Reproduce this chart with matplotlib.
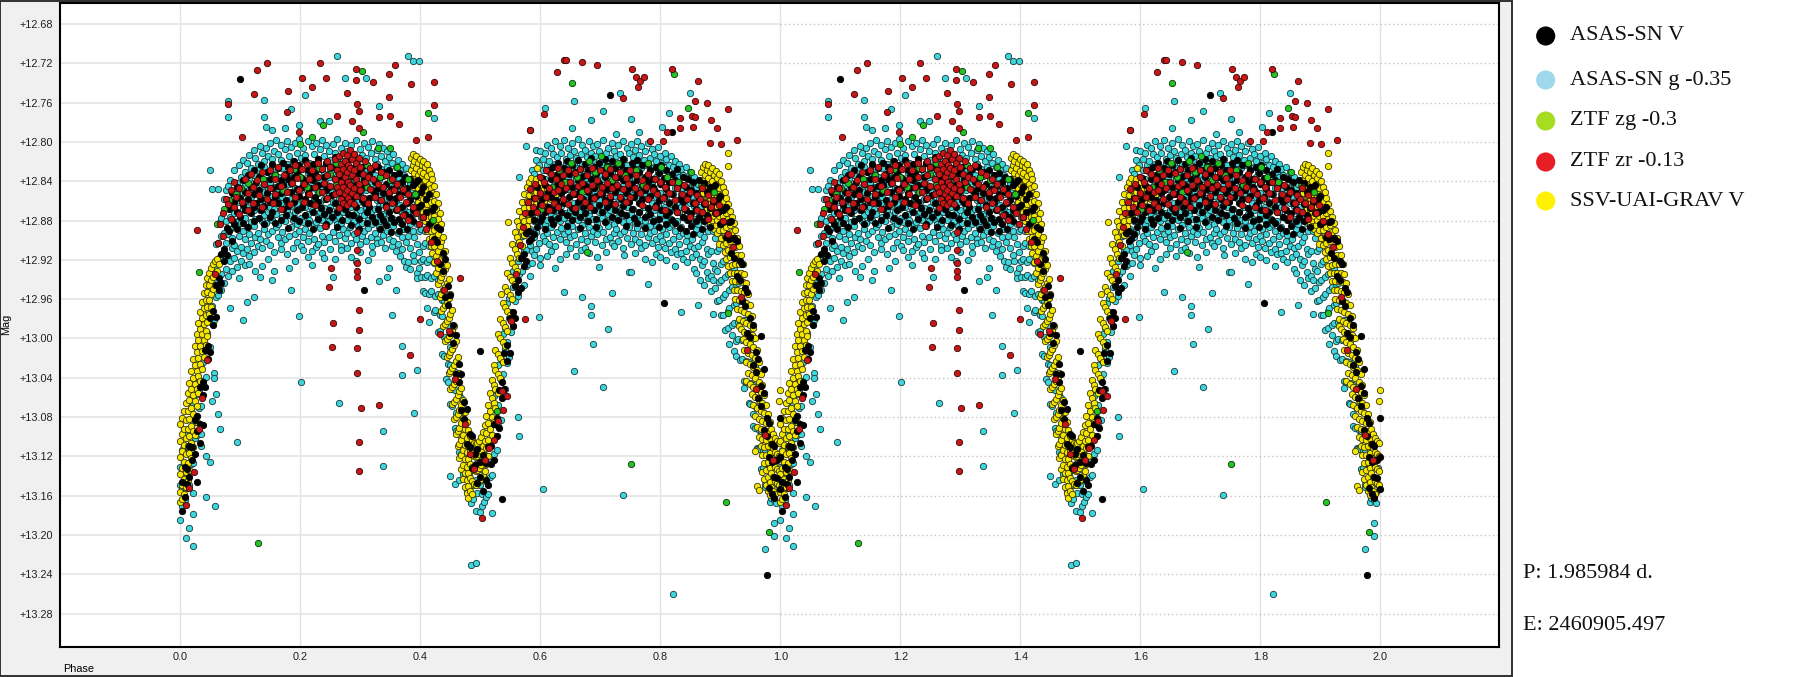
import matplotlib.pyplot as plt
from matplotlib.patches import Rectangle

# each row: (phase, mag, mag, ...) for one cycle (phase 0..1);
# the chart shows the same cycle twice, so it is drawn again at phase + 1
asassn_v = [
    (0.002, 13.146, 13.176), (0.007, 13.131, 13.161), (0.011, 13.133, 13.148), (0.015, 13.109, 13.141),
    (0.019, 13.111, 13.124), (0.024, 13.083, 13.118), (0.028, 13.079, 13.094, 13.146),
    (0.032, 13.049, 13.087, 13.106), (0.037, 13.044, 13.058, 13.088), (0.041, 13.012, 13.049),
    (0.046, 13.008, 13.021), (0.050, 12.979, 13.014), (0.055, 12.972, 12.986), (0.059, 12.946, 12.978),
    (0.064, 12.939, 12.951), (0.068, 12.914, 12.944), (0.073, 12.909, 12.921), (0.077, 12.888, 12.915),
    (0.081, 12.868, 12.891), (0.086, 12.852, 12.879, 12.901), (0.090, 12.861, 12.884), (0.095, 12.846, 12.871, 12.889),
    (0.099, 12.857, 12.876, 12.736), (0.104, 12.839, 12.864, 12.883), (0.108, 12.851, 12.869),
    (0.113, 12.834, 12.858, 12.887), (0.117, 12.846, 12.872), (0.122, 12.829, 12.853, 12.866, 12.881),
    (0.126, 12.841, 12.862), (0.131, 12.836, 12.849, 12.877), (0.135, 12.824, 12.858, 12.869),
    (0.140, 12.843, 12.865, 12.884), (0.144, 12.831, 12.852), (0.149, 12.838, 12.861, 12.876),
    (0.153, 12.822, 12.847, 12.871), (0.158, 12.834, 12.856, 12.883), (0.162, 12.827, 12.845, 12.862),
    (0.167, 12.839, 12.852, 12.879), (0.171, 12.821, 12.844, 12.868), (0.176, 12.833, 12.859, 12.874),
    (0.180, 12.826, 12.838, 12.865, 12.888), (0.185, 12.842, 12.851), (0.189, 12.819, 12.836, 12.861, 12.877),
    (0.194, 12.831, 12.848, 12.869), (0.198, 12.824, 12.855, 12.881), (0.203, 12.837, 12.846, 12.866),
    (0.207, 12.818, 12.841, 12.858, 12.874), (0.212, 12.829, 12.852, 12.883), (0.216, 12.835, 12.847, 12.862),
    (0.221, 12.822, 12.839, 12.871, 12.889), (0.225, 12.832, 12.856), (0.230, 12.817, 12.844, 12.861, 12.878),
    (0.234, 12.828, 12.851, 12.867), (0.239, 12.836, 12.843, 12.873), (0.243, 12.821, 12.849, 12.858, 12.884),
    (0.248, 12.833, 12.846, 12.869), (0.252, 12.826, 12.854, 12.876), (0.257, 12.815, 12.838, 12.862),
    (0.261, 12.829, 12.847, 12.871, 12.887), (0.266, 12.836, 12.852), (0.270, 12.823, 12.841, 12.864, 12.879),
    (0.275, 12.831, 12.857, 12.868), (0.279, 12.818, 12.844, 12.873), (0.284, 12.827, 12.849, 12.862, 12.885),
    (0.288, 12.835, 12.856, 12.874), (0.293, 12.821, 12.843, 12.866), (0.297, 12.832, 12.851, 12.878, 12.889),
    (0.302, 12.826, 12.847, 12.859), (0.306, 12.838, 12.862, 12.951), (0.311, 12.823, 12.845, 12.871, 12.883),
    (0.315, 12.834, 12.857, 12.866), (0.320, 12.828, 12.849, 12.876), (0.324, 12.841, 12.853, 12.882),
    (0.329, 12.826, 12.847, 12.868), (0.333, 12.836, 12.859, 12.874, 12.889), (0.338, 12.831, 12.852, 12.879),
    (0.342, 12.843, 12.864, 12.885), (0.347, 12.829, 12.856, 12.871), (0.351, 12.839, 12.848, 12.877, 12.892),
    (0.356, 12.834, 12.861, 12.882), (0.360, 12.845, 12.857, 12.869), (0.365, 12.832, 12.853, 12.878, 12.891),
    (0.369, 12.841, 12.866, 12.884), (0.374, 12.836, 12.851, 12.873), (0.378, 12.847, 12.862, 12.889),
    (0.383, 12.838, 12.859, 12.876), (0.387, 12.844, 12.869, 12.881),
    (0.392, 12.841, 12.855), (0.396, 12.839, 12.866), (0.401, 12.851, 12.864), (0.405, 12.846, 12.876),
    (0.410, 12.858, 12.871), (0.414, 12.853, 12.884), (0.419, 12.869, 12.881), (0.423, 12.866, 12.899),
    (0.428, 12.887, 12.902), (0.432, 12.889, 12.924), (0.437, 12.913, 12.931), (0.441, 12.919, 12.958),
    (0.446, 12.947, 12.966), (0.450, 12.956, 12.995), (0.455, 12.986, 13.005), (0.459, 12.997, 13.036),
    (0.464, 13.026, 13.044), (0.468, 13.036, 13.073), (0.473, 13.065, 13.082), (0.477, 13.072, 13.107),
    (0.482, 13.097, 13.111), (0.486, 13.099, 13.132), (0.491, 13.118, 13.129), (0.495, 13.113, 13.147),
    (0.500, 13.126, 13.141, 13.013), (0.504, 13.119, 13.155), (0.509, 13.127, 13.144), (0.513, 13.111, 13.149),
    (0.518, 13.109, 13.128), (0.522, 13.087, 13.124), (0.527, 13.081, 13.099), (0.531, 13.053, 13.091),
    (0.536, 13.044, 13.061, 13.163), (0.540, 13.015, 13.051), (0.545, 13.007, 13.023), (0.549, 12.979, 13.015),
    (0.554, 12.973, 12.987), (0.558, 12.947, 12.979), (0.563, 12.941, 12.953), (0.567, 12.918, 12.949),
    (0.572, 12.914, 12.926), (0.576, 12.893, 12.921), (0.581, 12.891, 12.901), (0.585, 12.872, 12.899),
    (0.590, 12.857, 12.879, 12.894), (0.594, 12.846, 12.868, 12.887), (0.599, 12.852, 12.863, 12.881),
    (0.603, 12.837, 12.858, 12.876), (0.608, 12.844, 12.871, 12.889), (0.612, 12.829, 12.851, 12.866),
    (0.617, 12.838, 12.856, 12.878), (0.621, 12.826, 12.847, 12.869, 12.884), (0.626, 12.834, 12.859),
    (0.630, 12.821, 12.843, 12.864, 12.877), (0.635, 12.836, 12.852, 12.871), (0.639, 12.827, 12.849, 12.862),
    (0.644, 12.819, 12.841, 12.874, 12.886), (0.648, 12.833, 12.856), (0.653, 12.824, 12.846, 12.867, 12.879),
    (0.657, 12.831, 12.853, 12.871), (0.662, 12.818, 12.839, 12.861), (0.666, 12.828, 12.849, 12.876, 12.888),
    (0.671, 12.835, 12.858, 12.866), (0.675, 12.822, 12.844, 12.872), (0.680, 12.829, 12.851, 12.863, 12.881),
    (0.684, 12.816, 12.838, 12.857), (0.689, 12.826, 12.847, 12.869), (0.693, 12.833, 12.855, 12.878, 12.887),
    (0.698, 12.821, 12.842, 12.864), (0.702, 12.829, 12.853, 12.871), (0.707, 12.817, 12.836, 12.859, 12.882),
    (0.711, 12.825, 12.848, 12.866), (0.716, 12.832, 12.857, 12.752), (0.720, 12.819, 12.841, 12.863, 12.876),
    (0.725, 12.827, 12.851, 12.869), (0.729, 12.836, 12.846, 12.879), (0.734, 12.823, 12.858, 12.872),
    (0.738, 12.817, 12.839, 12.865), (0.743, 12.829, 12.852, 12.874, 12.886), (0.747, 12.834, 12.847, 12.861),
    (0.752, 12.821, 12.843, 12.868), (0.756, 12.828, 12.856, 12.877), (0.761, 12.818, 12.839, 12.851, 12.883),
    (0.765, 12.831, 12.862, 12.871), (0.770, 12.824, 12.845, 12.858), (0.774, 12.836, 12.849, 12.876, 12.888),
    (0.779, 12.822, 12.841, 12.867), (0.783, 12.829, 12.855, 12.873), (0.788, 12.838, 12.846, 12.881),
    (0.792, 12.826, 12.851, 12.864), (0.797, 12.832, 12.859, 12.878, 12.887), (0.801, 12.824, 12.843, 12.869),
    (0.806, 12.837, 12.856, 12.964), (0.810, 12.829, 12.848, 12.874, 12.884), (0.815, 12.841, 12.862, 12.871),
    (0.819, 12.833, 12.853, 12.879, 12.790), (0.824, 12.839, 12.866, 12.883), (0.828, 12.828, 12.847, 12.871),
    (0.833, 12.843, 12.858, 12.888), (0.837, 12.836, 12.861, 12.876), (0.842, 12.846, 12.869, 12.891),
    (0.846, 12.838, 12.854, 12.879), (0.851, 12.849, 12.872, 12.886), (0.855, 12.841, 12.862, 12.894),
    (0.860, 12.852, 12.868, 12.881), (0.864, 12.839, 12.857, 12.876), (0.869, 12.847, 12.871, 12.889),
    (0.873, 12.842, 12.863, 12.881), (0.878, 12.851, 12.874), (0.882, 12.846, 12.867, 12.887),
    (0.887, 12.847, 12.861), (0.891, 12.844, 12.872), (0.896, 12.858, 12.871), (0.900, 12.855, 12.884),
    (0.905, 12.869, 12.882), (0.909, 12.866, 12.897), (0.914, 12.882, 12.899), (0.918, 12.881, 12.913),
    (0.923, 12.898, 12.918), (0.927, 12.901, 12.936), (0.932, 12.921, 12.941), (0.936, 12.924, 12.962),
    (0.941, 12.949, 12.967), (0.945, 12.953, 12.994), (0.950, 12.979, 12.999), (0.954, 12.986, 13.027),
    (0.959, 13.014, 13.034), (0.963, 13.021, 13.061), (0.968, 13.048, 13.069, 12.998), (0.972, 13.056, 13.093, 13.031),
    (0.977, 13.081, 13.099, 13.241), (0.981, 13.086, 13.121, 13.152), (0.986, 13.107, 13.126, 13.158),
    (0.990, 13.109, 13.141, 13.162), (0.995, 13.124, 13.142), (0.999, 13.121, 13.153, 13.081),
]

asassn_g = [
    (0.000, 13.131, 13.149, 13.185), (0.003, 13.114, 13.151, 13.171), (0.007, 13.117, 13.133, 13.164),
    (0.010, 13.096, 13.137, 13.152, 13.203), (0.014, 13.093, 13.112, 13.149, 13.193), (0.017, 13.071, 13.109, 13.128),
    (0.021, 13.068, 13.086, 13.127, 13.157, 13.179, 13.211), (0.024, 13.041, 13.082, 13.101),
    (0.028, 13.039, 13.057, 13.098), (0.031, 13.011, 13.053, 13.071), (0.035, 13.009, 13.026, 13.069, 13.097, 13.110),
    (0.038, 12.981, 13.024, 13.043), (0.042, 12.979, 12.996, 13.039, 13.120, 13.161), (0.045, 12.953, 12.994, 13.012),
    (0.049, 12.951, 12.969, 13.009, 13.126, 12.829), (0.052, 12.928, 12.967, 12.984, 13.064, 12.848),
    (0.056, 12.926, 12.943, 12.981, 13.035, 13.040), (0.058, 13.171), (0.059, 12.904, 12.941, 12.958, 13.057),
    (0.063, 12.903, 12.919, 12.956, 13.077, 12.848), (0.066, 12.882, 12.917, 12.935, 13.092),
    (0.068, 12.877, 12.896, 12.934, 12.951), (0.072, 12.858, 12.893, 12.912, 12.944),
    (0.076, 12.849, 12.881, 12.903, 12.929), (0.079, 12.845, 12.861, 12.894, 12.917, 12.936, 12.758, 12.775),
    (0.083, 12.839, 12.876, 12.889, 12.921, 12.969), (0.086, 12.851, 12.864, 12.898, 12.908, 12.931),
    (0.090, 12.829, 12.857, 12.872, 12.905, 12.918), (0.094, 12.842, 12.853, 12.887, 12.911, 12.927, 13.105),
    (0.097, 12.824, 12.861, 12.879, 12.896, 12.939), (0.101, 12.836, 12.847, 12.883, 12.907, 12.921),
    (0.104, 12.818, 12.852, 12.868, 12.891, 12.913, 12.981), (0.108, 12.831, 12.844, 12.877, 12.899, 12.925),
    (0.111, 12.821, 12.859, 12.866, 12.887, 12.909, 12.963), (0.115, 12.813, 12.838, 12.871, 12.894, 12.916, 12.924),
    (0.118, 12.827, 12.849, 12.856, 12.882, 12.903), (0.122, 12.808, 12.834, 12.869, 12.886, 12.912, 12.958),
    (0.125, 12.816, 12.843, 12.852, 12.878, 12.897, 12.931), (0.129, 12.822, 12.829, 12.864, 12.893, 12.906),
    (0.132, 12.804, 12.837, 12.858, 12.869, 12.899, 12.937), (0.136, 12.811, 12.846, 12.862, 12.881, 12.908, 12.926),
    (0.139, 12.819, 12.826, 12.851, 12.874, 12.889, 12.757, 12.775), (0.142, 12.806, 12.839, 12.857, 12.883, 12.901, 12.785),
    (0.146, 12.814, 12.831, 12.848, 12.871, 12.894, 12.919), (0.149, 12.801, 12.842, 12.866, 12.877, 12.905),
    (0.153, 12.817, 12.824, 12.855, 12.879, 12.891, 12.941, 12.788), (0.156, 12.809, 12.833, 12.846, 12.868, 12.912, 12.931),
    (0.160, 12.798, 12.828, 12.859, 12.873, 12.887), (0.163, 12.812, 12.836, 12.851, 12.884, 12.897),
    (0.167, 12.803, 12.818, 12.844, 12.862, 12.903, 12.909), (0.170, 12.821, 12.827, 12.856, 12.876, 12.892),
    (0.174, 12.807, 12.838, 12.849, 12.881, 12.899, 12.786), (0.177, 12.799, 12.822, 12.861, 12.869, 12.914),
    (0.181, 12.814, 12.831, 12.843, 12.874, 12.896, 12.928), (0.184, 12.805, 12.826, 12.858, 12.865, 12.887, 12.767, 12.951),
    (0.188, 12.819, 12.837, 12.852, 12.879, 12.908), (0.191, 12.801, 12.829, 12.847, 12.871, 12.894, 12.921),
    (0.195, 12.811, 12.824, 12.863, 12.884, 12.902), (0.198, 12.797, 12.835, 12.856, 12.868, 12.891, 12.783, 12.977),
    (0.201, 12.816, 12.828, 12.849, 12.877, 12.906, 13.044), (0.205, 12.806, 12.841, 12.859, 12.882, 12.897, 12.910),
    (0.208, 12.813, 12.819, 12.845, 12.866, 12.889, 12.752), (0.212, 12.799, 12.832, 12.853, 12.873, 12.901, 12.917),
    (0.215, 12.821, 12.838, 12.862, 12.879, 12.893), (0.219, 12.804, 12.826, 12.844, 12.869, 12.911, 12.925),
    (0.222, 12.812, 12.835, 12.857, 12.885, 12.899), (0.226, 12.801, 12.829, 12.848, 12.864, 12.882, 12.907),
    (0.229, 12.817, 12.823, 12.852, 12.876, 12.904), (0.233, 12.807, 12.839, 12.861, 12.871, 12.888, 12.779),
    (0.236, 12.798, 12.827, 12.846, 12.879, 12.896, 12.913), (0.240, 12.814, 12.833, 12.858, 12.867, 12.902, 12.918),
    (0.243, 12.803, 12.821, 12.843, 12.874, 12.886), (0.247, 12.809, 12.836, 12.854, 12.881, 12.897, 12.779),
    (0.250, 12.818, 12.828, 12.849, 12.866, 12.909), (0.254, 12.802, 12.831, 12.861, 12.873, 12.892, 12.937),
    (0.257, 12.811, 12.825, 12.845, 12.878, 12.901, 12.919), (0.261, 12.797, 12.838, 12.853, 12.869, 12.884, 12.713),
    (0.264, 12.815, 12.822, 12.857, 12.876, 12.895, 13.066), (0.268, 12.806, 12.833, 12.847, 12.883, 12.906, 12.910),
    (0.271, 12.819, 12.829, 12.862, 12.871, 12.889), (0.275, 12.801, 12.837, 12.851, 12.868, 12.898, 12.735),
    (0.278, 12.809, 12.824, 12.844, 12.879, 12.893, 12.908), (0.282, 12.816, 12.834, 12.858, 12.874, 12.887),
    (0.285, 12.803, 12.827, 12.849, 12.866, 12.903, 12.917), (0.289, 12.812, 12.839, 12.855, 12.881, 12.894),
    (0.292, 12.798, 12.821, 12.846, 12.872, 12.899, 12.921), (0.296, 12.818, 12.832, 12.861, 12.877, 12.886),
    (0.299, 12.807, 12.826, 12.852, 12.869, 12.904, 12.912), (0.303, 12.813, 12.838, 12.845, 12.883, 12.896),
    (0.306, 12.801, 12.829, 12.857, 12.874, 12.891), (0.310, 12.816, 12.823, 12.849, 12.866, 12.901, 12.735),
    (0.313, 12.805, 12.836, 12.862, 12.879, 12.888, 12.920), (0.317, 12.811, 12.831, 12.843, 12.871, 12.897),
    (0.320, 12.799, 12.827, 12.856, 12.884, 12.906, 12.913), (0.324, 12.817, 12.834, 12.851, 12.868, 12.893),
    (0.327, 12.808, 12.822, 12.859, 12.876, 12.899, 12.903), (0.331, 12.802, 12.839, 12.847, 12.865, 12.887, 12.763, 12.942),
    (0.334, 12.814, 12.828, 12.854, 12.881, 12.902), (0.338, 12.806, 12.835, 12.863, 12.873, 12.895, 13.094, 13.130),
    (0.341, 12.819, 12.831, 12.848, 12.878, 12.908), (0.345, 12.809, 12.826, 12.857, 12.869, 12.891, 12.938),
    (0.348, 12.815, 12.842, 12.852, 12.884, 12.899, 12.928), (0.352, 12.821, 12.834, 12.865, 12.877, 12.906, 12.976),
    (0.355, 12.812, 12.839, 12.858, 12.886, 12.901), (0.359, 12.826, 12.847, 12.861, 12.879, 12.911, 12.951),
    (0.362, 12.818, 12.836, 12.869, 12.893, 12.904), (0.366, 12.829, 12.851, 12.864, 12.882, 12.916),
    (0.369, 12.822, 12.844, 12.872, 12.897, 12.909, 13.008, 13.037), (0.373, 12.834, 12.853, 12.868, 12.889, 12.921),
    (0.376, 12.827, 12.849, 12.876, 12.902, 12.927), (0.380, 12.838, 12.861, 12.871, 12.896, 12.713, 12.922),
    (0.383, 12.843, 12.856, 12.884, 12.908, 12.929), (0.387, 12.849, 12.873, 12.891, 12.915, 12.718),
    (0.390, 12.854, 12.868, 12.897, 12.921, 13.076), (0.394, 12.862, 12.884, 12.904, 12.933, 12.939, 13.032),
    (0.397, 12.867, 12.891, 12.912, 12.928, 12.718),
    (0.401, 12.876, 12.889, 12.921, 12.937), (0.404, 12.872, 12.906, 12.919, 12.952),
    (0.408, 12.891, 12.903, 12.938, 12.954), (0.411, 12.888, 12.922, 12.935, 12.969),
    (0.415, 12.906, 12.919, 12.955, 12.983), (0.418, 12.904, 12.939, 12.952), (0.422, 12.923, 12.936, 12.973, 12.776),
    (0.425, 12.921, 12.957, 12.971), (0.429, 12.941, 12.955, 12.993), (0.432, 12.939, 12.976, 12.992),
    (0.436, 12.961, 12.977, 13.016), (0.439, 12.962, 12.999, 13.018), (0.443, 12.984, 13.002, 13.041),
    (0.446, 12.986, 13.026, 13.044), (0.450, 13.009, 13.027, 13.067, 13.140), (0.453, 13.011, 13.051, 13.069),
    (0.457, 13.034, 13.053, 13.091, 13.148), (0.460, 13.036, 13.076, 13.094), (0.464, 13.058, 13.078, 13.116, 13.144),
    (0.467, 13.061, 13.099, 13.118), (0.471, 13.083, 13.101, 13.138), (0.474, 13.084, 13.121, 13.137),
    (0.478, 13.103, 13.119, 13.156), (0.481, 13.101, 13.138, 13.153), (0.485, 13.118, 13.134, 13.168, 13.231),
    (0.488, 13.113, 13.149, 13.163), (0.492, 13.128, 13.144, 13.176, 13.229), (0.495, 13.121, 13.157),
    (0.499, 13.133, 13.149, 13.177), (0.502, 13.121, 13.158, 13.171), (0.506, 13.126, 13.142, 13.166),
    (0.509, 13.109, 13.145, 13.161), (0.513, 13.109, 13.126, 13.158), (0.516, 13.088, 13.126, 13.141),
    (0.520, 13.084, 13.103, 13.139, 13.178), (0.523, 13.059, 13.099, 13.118), (0.527, 13.053, 13.074, 13.114),
    (0.530, 13.027, 13.068, 13.089), (0.534, 13.021, 13.042, 13.083), (0.537, 12.996, 13.036, 13.057),
    (0.541, 12.989, 13.011, 13.051), (0.544, 12.964, 13.004, 13.025), (0.548, 12.959, 12.979, 13.019),
    (0.551, 12.934, 12.973, 12.993), (0.555, 12.931, 12.948, 12.987), (0.558, 12.907, 12.944, 12.962),
    (0.562, 12.904, 12.921, 12.957, 13.080), (0.565, 12.882, 12.918, 12.934, 13.099, 12.836),
    (0.569, 12.881, 12.896, 12.931), (0.572, 12.861, 12.895, 12.911, 12.946),
    (0.576, 12.862, 12.876, 12.910, 12.926, 12.804),
    (0.579, 12.846, 12.876, 12.893, 12.924), (0.583, 12.841, 12.858, 12.889, 12.905, 12.936, 12.788),
    (0.586, 12.829, 12.862, 12.874, 12.911, 12.923), (0.590, 12.833, 12.847, 12.881, 12.897, 12.915),
    (0.593, 12.818, 12.851, 12.863, 12.892, 12.909, 12.808), (0.597, 12.824, 12.836, 12.868, 12.885, 12.903, 12.978),
    (0.600, 12.809, 12.842, 12.859, 12.877, 12.918, 12.925), (0.604, 12.817, 12.829, 12.855, 12.871, 12.896, 13.153),
    (0.607, 12.811, 12.838, 12.864, 12.884, 12.901, 12.765), (0.611, 12.803, 12.823, 12.846, 12.879, 12.893, 12.916),
    (0.614, 12.819, 12.831, 12.857, 12.866, 12.904), (0.618, 12.806, 12.827, 12.849, 12.874, 12.887, 12.911),
    (0.621, 12.812, 12.839, 12.853, 12.882, 12.897), (0.625, 12.799, 12.822, 12.861, 12.876, 12.906, 12.928),
    (0.628, 12.815, 12.834, 12.844, 12.869, 12.892), (0.632, 12.804, 12.826, 12.857, 12.881, 12.899, 12.919),
    (0.635, 12.811, 12.837, 12.852, 12.865, 12.888), (0.639, 12.798, 12.829, 12.846, 12.877, 12.894, 12.953),
    (0.642, 12.817, 12.821, 12.859, 12.872, 12.902, 12.914), (0.646, 12.806, 12.836, 12.848, 12.883, 12.891),
    (0.649, 12.813, 12.828, 12.855, 12.869, 12.897, 12.908), (0.653, 12.801, 12.833, 12.844, 12.878, 12.886, 12.786),
    (0.656, 12.809, 12.824, 12.862, 12.873, 12.895, 12.758, 13.033), (0.660, 12.816, 12.838, 12.851, 12.866, 12.904, 12.916),
    (0.663, 12.797, 12.827, 12.845, 12.879, 12.889), (0.667, 12.812, 12.831, 12.858, 12.871, 12.899, 12.910),
    (0.670, 12.803, 12.822, 12.849, 12.876, 12.885, 12.958), (0.674, 12.808, 12.839, 12.854, 12.868, 12.893, 12.908),
    (0.677, 12.815, 12.826, 12.843, 12.881, 12.901), (0.681, 12.799, 12.833, 12.861, 12.874, 12.887, 12.913),
    (0.684, 12.811, 12.829, 12.847, 12.869, 12.896, 12.778, 12.967, 12.976),
    (0.688, 12.804, 12.818, 12.856, 12.878, 12.891, 13.006), (0.691, 12.814, 12.836, 12.851, 12.864, 12.902),
    (0.695, 12.802, 12.827, 12.844, 12.883, 12.894, 12.917), (0.698, 12.809, 12.834, 12.859, 12.871, 12.888, 12.927),
    (0.702, 12.817, 12.823, 12.852, 12.877, 12.905), (0.705, 12.798, 12.838, 12.846, 12.866, 12.892, 12.769, 13.049),
    (0.709, 12.811, 12.829, 12.857, 12.881, 12.899, 12.912), (0.712, 12.806, 12.821, 12.849, 12.873, 12.886, 12.990),
    (0.716, 12.816, 12.835, 12.862, 12.869, 12.897), (0.719, 12.801, 12.831, 12.843, 12.878, 12.903, 12.954),
    (0.723, 12.809, 12.826, 12.855, 12.884, 12.893, 12.906), (0.726, 12.814, 12.837, 12.848, 12.867, 12.889, 12.792),
    (0.730, 12.803, 12.822, 12.861, 12.876, 12.901), (0.733, 12.812, 12.833, 12.853, 12.871, 12.894, 12.750),
    (0.737, 12.799, 12.828, 12.845, 12.882, 12.908, 13.159), (0.740, 12.817, 12.839, 12.856, 12.874, 12.891, 12.915),
    (0.744, 12.806, 12.824, 12.851, 12.866, 12.898), (0.747, 12.811, 12.835, 12.859, 12.879, 12.887, 12.932),
    (0.751, 12.802, 12.829, 12.842, 12.873, 12.904, 12.777, 12.932), (0.754, 12.815, 12.826, 12.854, 12.868, 12.893),
    (0.758, 12.808, 12.837, 12.849, 12.883, 12.899, 12.913), (0.761, 12.799, 12.821, 12.857, 12.876, 12.888),
    (0.765, 12.813, 12.832, 12.846, 12.871, 12.902, 12.790), (0.768, 12.804, 12.827, 12.861, 12.879, 12.894, 12.908),
    (0.772, 12.818, 12.839, 12.852, 12.866, 12.886), (0.775, 12.809, 12.823, 12.845, 12.881, 12.905, 12.919),
    (0.779, 12.801, 12.834, 12.858, 12.873, 12.897, 12.945), (0.782, 12.816, 12.829, 12.851, 12.886, 12.893),
    (0.786, 12.807, 12.841, 12.862, 12.877, 12.903, 12.922), (0.789, 12.812, 12.826, 12.848, 12.869, 12.891),
    (0.793, 12.819, 12.836, 12.856, 12.884, 12.899, 12.914), (0.796, 12.805, 12.831, 12.864, 12.878, 12.907),
    (0.800, 12.814, 12.843, 12.852, 12.873, 12.896, 12.917), (0.803, 12.821, 12.829, 12.859, 12.889, 12.901, 12.785),
    (0.807, 12.811, 12.838, 12.866, 12.879, 12.908), (0.810, 12.817, 12.846, 12.855, 12.872, 12.894, 12.920),
    (0.814, 12.823, 12.834, 12.861, 12.887, 12.903, 12.771), (0.817, 12.814, 12.841, 12.869, 12.878, 12.912),
    (0.821, 12.826, 12.838, 12.853, 12.884, 12.899, 13.260), (0.824, 12.819, 12.847, 12.867, 12.891, 12.909, 12.926),
    (0.828, 12.831, 12.843, 12.862, 12.881, 12.914), (0.831, 12.822, 12.836, 12.871, 12.896, 12.904),
    (0.835, 12.828, 12.853, 12.866, 12.887, 12.913, 12.973), (0.838, 12.834, 12.849, 12.876, 12.893, 12.919),
    (0.842, 12.826, 12.857, 12.869, 12.901, 12.911), (0.845, 12.837, 12.851, 12.879, 12.895, 12.922),
    (0.849, 12.831, 12.862, 12.874, 12.906, 12.750), (0.852, 12.842, 12.855, 12.884, 12.899, 12.917),
    (0.856, 12.836, 12.865, 12.878, 12.908, 12.929), (0.859, 12.847, 12.861, 12.889, 12.914, 12.933),
    (0.863, 12.843, 12.871, 12.884, 12.906, 12.966), (0.866, 12.852, 12.866, 12.894, 12.919, 12.941),
    (0.870, 12.848, 12.877, 12.902, 12.925), (0.873, 12.857, 12.872, 12.897, 12.921, 12.946),
    (0.877, 12.853, 12.883, 12.909, 12.932), (0.880, 12.862, 12.891, 12.914, 12.939),
    (0.884, 12.867, 12.885, 12.911, 12.936, 12.952),
    (0.887, 12.872, 12.891, 12.923, 12.941, 12.975), (0.891, 12.879, 12.898, 12.929, 12.949),
    (0.894, 12.879, 12.911, 12.931, 12.962), (0.898, 12.892, 12.908, 12.943, 12.961),
    (0.901, 12.889, 12.924, 12.941, 12.976), (0.905, 12.904, 12.921, 12.958, 12.976),
    (0.908, 12.901, 12.937, 12.955, 12.991), (0.912, 12.916, 12.934, 12.972, 12.989),
    (0.915, 12.913, 12.951, 12.969, 13.006), (0.919, 12.929, 12.948, 12.986, 12.997),
    (0.922, 12.928, 12.966, 12.984, 13.013), (0.926, 12.945, 12.964, 13.003, 13.018),
    (0.929, 12.944, 12.983, 13.001), (0.933, 12.962, 12.982, 13.022), (0.936, 12.961, 13.002, 13.021),
    (0.940, 12.981, 13.001, 13.043, 13.050), (0.943, 12.981, 13.023, 13.044), (0.947, 13.002, 13.024, 13.066),
    (0.950, 13.003, 13.045, 13.067), (0.954, 13.025, 13.047, 13.089, 13.077), (0.957, 13.027, 13.069, 13.091),
    (0.961, 13.049, 13.071, 13.112, 13.113), (0.964, 13.051, 13.093, 13.113), (0.968, 13.073, 13.094, 13.133),
    (0.971, 13.075, 13.114, 13.132), (0.975, 13.096, 13.114, 13.151, 13.214, 13.148), (0.978, 13.096, 13.133, 13.149),
    (0.982, 13.114, 13.131, 13.166), (0.985, 13.111, 13.147, 13.162), (0.989, 13.126, 13.142, 13.164, 13.188, 13.201),
    (0.992, 13.120, 13.156, 13.168), (0.996, 13.132, 13.149),
]

ztf_zg = [
    (0.031, 12.932), (0.061, 12.884), (0.072, 12.868), (0.081, 12.859), (0.092, 12.853), (0.101, 12.847),
    (0.112, 12.842), (0.129, 13.208), (0.138, 12.838), (0.158, 12.834), (0.171, 12.849), (0.189, 12.828),
    (0.200, 12.802, 12.836), (0.211, 12.846), (0.220, 12.795), (0.231, 12.827, 12.851), (0.238, 12.783),
    (0.249, 12.833), (0.259, 12.821, 12.844), (0.271, 12.829), (0.281, 12.841), (0.302, 12.728),
    (0.305, 12.790), (0.311, 12.824, 12.846), (0.329, 12.806), (0.332, 12.836), (0.350, 12.806, 12.839),
    (0.361, 12.826), (0.371, 12.848), (0.379, 12.838), (0.391, 12.853), (0.412, 12.771), (0.421, 12.879),
    (0.528, 13.074), (0.601, 12.868), (0.619, 12.846), (0.631, 12.829), (0.641, 12.841), (0.651, 12.821),
    (0.653, 12.740), (0.661, 12.836), (0.669, 12.851), (0.677, 12.912), (0.681, 12.819), (0.691, 12.831),
    (0.701, 12.846, 12.814), (0.711, 12.826), (0.719, 12.839), (0.729, 12.821), (0.741, 12.834),
    (0.751, 13.128), (0.759, 12.829), (0.771, 12.844), (0.779, 12.821), (0.791, 12.838), (0.801, 12.826),
    (0.811, 12.836), (0.822, 12.731), (0.829, 12.841), (0.846, 12.765), (0.851, 12.831), (0.869, 12.846),
    (0.889, 12.851), (0.909, 13.167), (0.913, 12.974), (0.981, 13.197),
]

ztf_zr = [
    (0.010, 13.170), (0.015, 13.152), (0.022, 13.136), (0.027, 12.890), (0.031, 13.092), (0.036, 13.061),
    (0.044, 13.022), (0.058, 12.934), (0.062, 12.903), (0.066, 12.884), (0.071, 12.872, 12.896), (0.076, 12.858),
    (0.080, 12.863, 12.761), (0.084, 12.849, 12.878), (0.089, 12.866, 12.841), (0.093, 12.856), (0.098, 12.847, 12.873),
    (0.103, 12.795, 12.861), (0.107, 12.838), (0.112, 12.852, 12.869), (0.117, 12.833), (0.121, 12.846, 12.862),
    (0.123, 12.751), (0.127, 12.727, 12.839), (0.131, 12.854), (0.136, 12.831, 12.866), (0.140, 12.843),
    (0.145, 12.720, 12.858), (0.149, 12.829, 12.847), (0.154, 12.862), (0.158, 12.838, 12.853), (0.163, 12.826),
    (0.167, 12.845, 12.868), (0.172, 12.834), (0.177, 12.770, 12.851), (0.179, 12.748), (0.182, 12.829, 12.863),
    (0.186, 12.842), (0.191, 12.824, 12.856), (0.195, 12.837), (0.198, 12.790, 12.849), (0.202, 12.735, 12.828),
    (0.206, 12.843, 12.861), (0.211, 12.822), (0.215, 12.838, 12.853), (0.220, 12.744, 12.829), (0.224, 12.846, 12.864),
    (0.229, 12.821, 12.836), (0.232, 12.720), (0.236, 12.851, 12.828), (0.240, 12.842), (0.241, 12.886),
    (0.242, 12.735), (0.245, 12.819, 12.834, 12.857), (0.247, 12.948), (0.250, 12.826, 12.845), (0.251, 12.928),
    (0.252, 13.009), (0.254, 12.984), (0.257, 12.817, 12.838, 12.853), (0.261, 12.774, 12.829, 12.846),
    (0.265, 12.814, 12.833, 12.851, 12.867), (0.268, 12.822, 12.841, 12.858), (0.271, 12.811, 12.828, 12.846, 12.862),
    (0.274, 12.819, 12.836, 12.853), (0.277, 12.750, 12.813, 12.831, 12.849, 12.864), (0.280, 12.824, 12.841, 12.857),
    (0.283, 12.808, 12.827, 12.844, 12.861), (0.286, 12.817, 12.834, 12.852, 12.779), (0.289, 12.812, 12.829, 12.847, 12.863),
    (0.292, 12.726, 12.737, 12.821, 12.838, 12.855),
    (0.294, 12.761, 12.892, 12.910, 12.923, 12.931, 12.937, 13.010, 13.035), (0.297, 12.769, 12.971, 13.105, 12.816, 12.843),
    (0.298, 12.786, 12.991, 13.135), (0.300, 12.826, 12.849), (0.301, 13.071), (0.304, 12.833, 12.857),
    (0.308, 12.819, 12.841), (0.312, 12.836, 12.862), (0.316, 12.827, 12.848), (0.321, 12.739, 12.838),
    (0.325, 12.824, 12.856), (0.329, 12.843), (0.331, 12.775, 13.068), (0.334, 12.831, 12.859), (0.338, 12.846),
    (0.342, 12.834, 12.866), (0.347, 12.731, 12.754, 12.851), (0.349, 12.774), (0.352, 12.838, 12.862), (0.356, 12.849),
    (0.358, 12.722), (0.361, 12.843, 12.868), (0.364, 12.782), (0.366, 12.856), (0.371, 12.848, 12.874), (0.376, 12.861),
    (0.380, 12.853, 12.879), (0.383, 13.017), (0.384, 12.741), (0.388, 12.866), (0.392, 12.798, 12.872), (0.397, 12.884),
    (0.400, 12.980), (0.404, 12.876), (0.410, 12.889), (0.413, 12.795), (0.418, 12.902), (0.423, 12.739, 12.762),
    (0.427, 12.921), (0.432, 12.996), (0.440, 12.951), (0.448, 12.992), (0.458, 13.041), (0.466, 12.939),
    (0.474, 13.087), (0.483, 13.118), (0.490, 13.133), (0.502, 13.183), (0.508, 13.124), (0.515, 13.112),
    (0.522, 13.103), (0.529, 13.084), (0.536, 13.054), (0.538, 13.073), (0.544, 13.059), (0.551, 12.982),
    (0.559, 12.934), (0.566, 12.905), (0.571, 12.887), (0.575, 12.980, 12.872),
    (0.579, 12.861), (0.583, 12.788, 12.848), (0.587, 12.866), (0.591, 12.843, 12.857), (0.595, 12.871),
    (0.599, 12.836, 12.852), (0.603, 12.864), (0.606, 12.772, 12.841), (0.610, 12.829, 12.856), (0.614, 12.847, 12.869),
    (0.618, 12.833), (0.622, 12.851, 12.862), (0.626, 12.838), (0.628, 12.729), (0.630, 12.827, 12.849, 12.866),
    (0.634, 12.843), (0.638, 12.834, 12.858), (0.640, 12.717), (0.642, 12.717, 12.847), (0.646, 12.829, 12.863),
    (0.650, 12.841), (0.654, 12.852), (0.658, 12.832, 12.867), (0.662, 12.845), (0.666, 12.828, 12.856),
    (0.670, 12.719, 12.842), (0.674, 12.861), (0.678, 12.834, 12.849), (0.682, 12.866), (0.686, 12.827, 12.844),
    (0.690, 12.857), (0.695, 12.722, 12.839), (0.699, 12.852, 12.829), (0.703, 12.846), (0.707, 12.833, 12.861),
    (0.711, 12.842), (0.716, 12.828, 12.855), (0.720, 12.847), (0.724, 12.836, 12.863), (0.728, 12.844),
    (0.733, 12.831, 12.856), (0.738, 12.755, 12.848), (0.742, 12.837, 12.861), (0.746, 12.843), (0.750, 12.829, 12.856),
    (0.753, 12.726), (0.757, 12.847), (0.760, 12.734, 12.834), (0.763, 12.744), (0.766, 12.738, 12.852),
    (0.770, 12.839, 12.864), (0.773, 12.734), (0.776, 12.846), (0.780, 12.833, 12.858), (0.783, 12.799), (0.787, 12.849),
    (0.791, 12.838, 12.866), (0.795, 12.853), (0.799, 12.841), (0.804, 12.799, 12.857), (0.808, 12.846, 12.869),
    (0.811, 12.790), (0.815, 12.852), (0.820, 12.726, 12.841), (0.824, 12.859), (0.828, 12.847, 12.871), (0.832, 12.776),
    (0.833, 12.786), (0.836, 12.853), (0.840, 12.844, 12.867), (0.845, 12.858), (0.849, 12.851, 12.876), (0.853, 12.774),
    (0.854, 12.785), (0.857, 12.758, 12.775, 12.862), (0.861, 12.854, 12.869), (0.862, 12.738), (0.866, 12.858),
    (0.870, 12.847, 12.871), (0.874, 12.862), (0.877, 12.760), (0.879, 12.854, 12.878), (0.882, 12.801),
    (0.884, 12.778, 12.866), (0.888, 12.859), (0.892, 12.872), (0.895, 12.786), (0.898, 12.864), (0.901, 12.802),
    (0.905, 12.881), (0.913, 12.766, 12.894), (0.921, 12.907), (0.927, 12.798), (0.935, 12.958), (0.945, 13.012),
    (0.960, 13.052), (0.975, 13.098), (0.988, 13.124),
]

ssv_grav_v = [
    (0.000, 13.087, 13.104, 13.121, 13.138, 13.156, 13.166), (0.003, 13.081, 13.097, 13.115, 13.132, 13.149, 13.163),
    (0.006, 13.074, 13.092, 13.108, 13.126, 13.143, 13.158), (0.009, 13.066, 13.083, 13.101, 13.118, 13.136, 13.151),
    (0.012, 13.056, 13.074, 13.092, 13.109, 13.127, 13.144), (0.015, 13.045, 13.063, 13.082, 13.099, 13.117, 13.134),
    (0.018, 13.033, 13.052, 13.071, 13.089, 13.106, 13.122), (0.021, 13.021, 13.040, 13.058, 13.077, 13.094, 13.111),
    (0.024, 13.008, 13.027, 13.046, 13.064, 13.082, 13.098), (0.027, 12.996, 13.014, 13.033, 13.051, 13.069, 13.085),
    (0.030, 12.984, 13.002, 13.020, 13.038, 13.056), (0.033, 12.973, 12.990, 13.008, 13.026, 13.043),
    (0.036, 12.963, 12.979, 12.996, 13.013, 13.031), (0.039, 12.954, 12.969, 12.985, 13.002, 13.019),
    (0.042, 12.946, 12.961, 12.976, 12.992, 13.007), (0.045, 12.939, 12.953, 12.968, 12.983, 12.998),
    (0.048, 12.933, 12.946, 12.961, 12.975), (0.051, 12.928, 12.941, 12.955, 12.968), (0.054, 12.924, 12.937, 12.950),
    (0.057, 12.921, 12.933, 12.946), (0.061, 12.919, 12.931), (0.064, 12.924),
    (0.384, 12.816, 12.829), (0.387, 12.812, 12.824, 12.838), (0.390, 12.819, 12.832, 12.846),
    (0.393, 12.814, 12.827, 12.840, 12.853), (0.396, 12.821, 12.834, 12.847, 12.861), (0.399, 12.817, 12.830, 12.843, 12.856),
    (0.402, 12.823, 12.836, 12.849, 12.863, 12.876), (0.405, 12.819, 12.832, 12.845, 12.858, 12.871),
    (0.408, 12.826, 12.839, 12.852, 12.866, 12.880), (0.411, 12.822, 12.835, 12.849, 12.863, 12.877, 12.891),
    (0.414, 12.829, 12.843, 12.857, 12.871, 12.885, 12.899), (0.417, 12.833, 12.847, 12.861, 12.876, 12.891, 12.906),
    (0.420, 12.838, 12.852, 12.867, 12.882, 12.897, 12.913), (0.423, 12.845, 12.860, 12.875, 12.890, 12.906, 12.922),
    (0.426, 12.853, 12.868, 12.884, 12.900, 12.916, 12.933), (0.429, 12.862, 12.878, 12.894, 12.911, 12.928, 12.945),
    (0.432, 12.872, 12.889, 12.906, 12.923, 12.941, 12.958), (0.435, 12.884, 12.901, 12.919, 12.937, 12.955, 12.972),
    (0.438, 12.897, 12.915, 12.933, 12.951, 12.969, 12.987), (0.441, 12.911, 12.929, 12.948, 12.966, 12.985, 13.003),
    (0.444, 12.925, 12.944, 12.963, 12.982, 13.001, 13.019), (0.447, 12.940, 12.959, 12.979, 12.998, 13.017, 13.035),
    (0.450, 12.955, 12.975, 12.995, 13.014, 13.033, 13.051), (0.453, 12.971, 12.991, 13.011, 13.030, 13.049, 13.067),
    (0.456, 12.987, 13.007, 13.027, 13.046, 13.065, 13.082), (0.459, 13.003, 13.023, 13.043, 13.062, 13.080, 13.097),
    (0.462, 13.019, 13.039, 13.058, 13.077, 13.094, 13.110), (0.465, 13.035, 13.054, 13.073, 13.091, 13.107, 13.122),
    (0.468, 13.050, 13.068, 13.086, 13.103, 13.119, 13.133), (0.471, 13.063, 13.081, 13.098, 13.114, 13.129, 13.143),
    (0.474, 13.075, 13.092, 13.108, 13.123, 13.137, 13.151), (0.477, 13.085, 13.101, 13.116, 13.131, 13.144, 13.157),
    (0.480, 13.093, 13.108, 13.123, 13.137, 13.150, 13.162), (0.483, 13.099, 13.114, 13.128, 13.142, 13.155),
    (0.486, 13.103, 13.117, 13.131, 13.145, 13.158), (0.489, 13.106, 13.120, 13.134, 13.148),
    (0.492, 13.107, 13.121, 13.135, 13.149), (0.495, 13.106, 13.120, 13.134, 13.147),
    (0.498, 13.104, 13.118, 13.132, 13.145), (0.501, 13.100, 13.115, 13.129, 13.143),
    (0.504, 13.095, 13.110, 13.125, 13.140), (0.507, 13.088, 13.104, 13.119, 13.135),
    (0.510, 13.079, 13.096, 13.112, 13.128), (0.513, 13.068, 13.086, 13.103, 13.120),
    (0.516, 13.056, 13.074, 13.092, 13.110), (0.519, 13.042, 13.061, 13.080, 13.098),
    (0.522, 13.027, 13.047, 13.066, 13.085), (0.525, 13.012, 13.032, 13.051, 13.071),
    (0.529, 12.996, 13.016, 13.036, 13.056), (0.533, 12.980, 13.000, 13.020, 13.040), (0.534, 12.955),
    (0.537, 12.964, 12.984, 13.004, 13.024), (0.541, 12.948, 12.968, 12.988, 13.008),
    (0.545, 12.933, 12.952, 12.972, 12.992), (0.546, 12.882), (0.549, 12.918, 12.937, 12.956, 12.976),
    (0.553, 12.904, 12.923, 12.941, 12.960), (0.557, 12.892, 12.909, 12.927, 12.945),
    (0.561, 12.880, 12.897, 12.914, 12.931), (0.565, 12.870, 12.886, 12.902, 12.918),
    (0.569, 12.861, 12.876, 12.891, 12.906), (0.573, 12.853, 12.867, 12.881, 12.895),
    (0.577, 12.846, 12.860, 12.873, 12.886), (0.581, 12.841, 12.854, 12.866, 12.879),
    (0.585, 12.837, 12.849, 12.861, 12.873), (0.589, 12.842, 12.855, 12.867), (0.593, 12.838, 12.851, 12.863),
    (0.594, 12.827), (0.597, 12.846, 12.858), (0.601, 12.841, 12.853), (0.606, 12.848, 12.860),
    (0.611, 12.849, 12.866), (0.618, 12.858), (0.626, 12.853),
    (0.868, 12.831, 12.845), (0.871, 12.826, 12.839, 12.852), (0.874, 12.822, 12.834, 12.847, 12.861),
    (0.877, 12.829, 12.842, 12.855, 12.868), (0.880, 12.824, 12.837, 12.850, 12.863, 12.876),
    (0.883, 12.831, 12.844, 12.857, 12.871, 12.884), (0.886, 12.827, 12.840, 12.853, 12.866, 12.879),
    (0.889, 12.834, 12.847, 12.861, 12.875, 12.889), (0.892, 12.830, 12.843, 12.857, 12.871, 12.885),
    (0.895, 12.837, 12.851, 12.865, 12.879, 12.893), (0.898, 12.833, 12.847, 12.861, 12.875, 12.890, 12.904),
    (0.901, 12.840, 12.854, 12.868, 12.883, 12.898), (0.904, 12.846, 12.860, 12.875, 12.890, 12.905),
    (0.907, 12.851, 12.866, 12.881, 12.896, 12.912), (0.910, 12.857, 12.872, 12.887, 12.903, 12.919),
    (0.913, 12.863, 12.878, 12.894, 12.910, 12.926, 12.811, 12.825), (0.916, 12.870, 12.885, 12.901, 12.917, 12.933),
    (0.919, 12.876, 12.892, 12.908, 12.925, 12.942), (0.922, 12.883, 12.899, 12.916, 12.933, 12.951),
    (0.925, 12.890, 12.907, 12.924, 12.942, 12.960), (0.928, 12.898, 12.915, 12.933, 12.951, 12.970),
    (0.931, 12.906, 12.924, 12.942, 12.961, 12.980, 12.987), (0.934, 12.915, 12.933, 12.952, 12.971, 12.990),
    (0.937, 12.924, 12.943, 12.962, 12.982, 13.001), (0.940, 12.934, 12.953, 12.973, 12.993, 13.012),
    (0.943, 12.944, 12.964, 12.984, 13.004, 13.024, 13.043), (0.946, 12.955, 12.975, 12.995, 13.015, 13.035),
    (0.949, 12.966, 12.986, 13.006, 13.026, 13.046), (0.952, 12.977, 12.997, 13.017, 13.037, 13.057),
    (0.955, 12.989, 13.009, 13.029, 13.049, 13.068), (0.958, 13.000, 13.020, 13.040, 13.060, 13.079, 13.115),
    (0.961, 13.012, 13.032, 13.052, 13.071, 13.090, 13.150), (0.964, 13.024, 13.044, 13.063, 13.082, 13.100, 13.154),
    (0.967, 13.036, 13.055, 13.074, 13.092, 13.110), (0.970, 13.047, 13.066, 13.084, 13.102, 13.119, 13.136),
    (0.973, 13.058, 13.076, 13.094, 13.111, 13.127, 13.143), (0.976, 13.068, 13.086, 13.103, 13.119, 13.134, 13.149),
    (0.979, 13.077, 13.094, 13.110, 13.126, 13.141, 13.155), (0.982, 13.085, 13.101, 13.117, 13.132, 13.146, 13.159),
    (0.985, 13.092, 13.107, 13.122, 13.137, 13.151), (0.988, 13.097, 13.112, 13.127, 13.141, 13.155),
    (0.991, 13.101, 13.116, 13.131, 13.145, 13.158), (0.994, 13.104, 13.118, 13.133, 13.147),
    (0.997, 13.106, 13.120, 13.135, 13.149, 13.064), (0.999, 13.053),
]

series_names = ["ASAS-SN V", "ASAS-SN g -0.35", "ZTF zg -0.3", "ZTF zr -0.13", "SSV-UAI-GRAV V"]
x_ticks = [0.0, 0.2, 0.4, 0.6, 0.8, 1.0, 1.2, 1.4, 1.6, 1.8, 2.0]
y_ticks = [12.68, 12.72, 12.76, 12.80, 12.84, 12.88, 12.92, 12.96, 13.00,
           13.04, 13.08, 13.12, 13.16, 13.20, 13.24, 13.28]
period_text = "P: 1.985984 d."
epoch_text = "E: 2460905.497"


def unpack(rows):
    ph, mg = [], []
    for r in rows:
        for m in r[1:]:
            ph.append(r[0])
            mg.append(m)
    return ph, mg


W, H = 1800, 677
fig = plt.figure(figsize=(W / 100, H / 100), dpi=100, facecolor="white")

# grey panel behind the plot area (zorder below the axes)
fig.patches.append(Rectangle((0.4 / W, 0.6 / H), 1512 / W, (H - 1.4) / H, transform=fig.transFigure,
                             facecolor="#f0f0f0", edgecolor="#303030", lw=1.4, zorder=-5))

ax = fig.add_axes([60 / W, (H - 647.3) / H, (1499.3 - 60) / W, (647.3 - 2.7) / H])
ax.set_facecolor("white")
ax.set_xlim(-0.2005, 2.1983)
ax.set_ylim(13.3144, 12.6583)

for x in x_ticks:
    ax.axvline(x, color="#e2e2e2", lw=1.0, zorder=0)
for y in y_ticks:
    ax.plot([-0.25, 1.0], [y, y], color="#e8e8e8", lw=1.5, zorder=0)
    ax.plot([1.0, 2.25], [y, y], color="#c4c4c4", lw=1.0, ls=(0, (1, 2)), zorder=0)

# draw order: cyan, yellow, black, green, red
styles = {
    "ASAS-SN g -0.35": (asassn_g, "#3cd6dc", "#183838", 2),
    "SSV-UAI-GRAV V": (ssv_grav_v, "#f4e600", "#3a3600", 3),
    "ASAS-SN V": (asassn_v, "#000000", "#000000", 4),
    "ZTF zg -0.3": (ztf_zg, "#22c422", "#0c300c", 5),
    "ZTF zr -0.13": (ztf_zr, "#c81616", "#300808", 6),
}
for name, (rows, fc, ec, z) in styles.items():
    ph, mg = unpack(rows)
    for shift in (0.0, 1.0):
        ax.scatter([p + shift for p in ph], mg, s=21, c=fc, edgecolors=ec, linewidths=0.6, zorder=z)

for s in ax.spines.values():
    s.set_color("black")
    s.set_linewidth(1.5)
ax.set_xticks(x_ticks)
ax.set_xticklabels([f"{v:.1f}" for v in x_ticks])
ax.set_yticks(y_ticks)
ax.set_yticklabels([f"+{v:.2f}" for v in y_ticks])
ax.tick_params(length=0, labelsize=7.8, colors="#202020")
ax.tick_params(axis="y", pad=5.3)
ax.tick_params(axis="x", pad=3.6)
for lab in ax.get_xticklabels() + ax.get_yticklabels():
    lab.set_family("Liberation Sans")

fig.text(63 / W, 1 - 669 / H, "Phase", ha="left", va="center", fontsize=7.8, family="Liberation Sans")
fig.text(6 / W, 1 - 324 / H, "Mag", ha="center", va="center", rotation=90, fontsize=7.8,
         family="Liberation Sans")

# legend on the right
lax = fig.add_axes([0, 0, 1, 1], facecolor="none")
lax.set_xlim(0, W)
lax.set_ylim(H, 0)
lax.axis("off")
legend_colors = ["#000000", "#9fd8ea", "#a6dc22", "#e81e26", "#fff200"]
legend_y = [36, 80, 121, 162, 201]
for name, col, y in zip(series_names, legend_colors, legend_y):
    lax.scatter([1545.7], [y], s=190, c=col, edgecolors="none")
    lax.text(1570, y, name, ha="left", va="center", fontsize=16, family="Liberation Serif", color="#111111")
lax.text(1522.7, 574, period_text, ha="left", va="center", fontsize=16, family="Liberation Serif",
         color="#111111")
lax.text(1522.7, 626, epoch_text, ha="left", va="center", fontsize=16, family="Liberation Serif",
         color="#111111")

fig.savefig("out.png", dpi=100, facecolor="white")
